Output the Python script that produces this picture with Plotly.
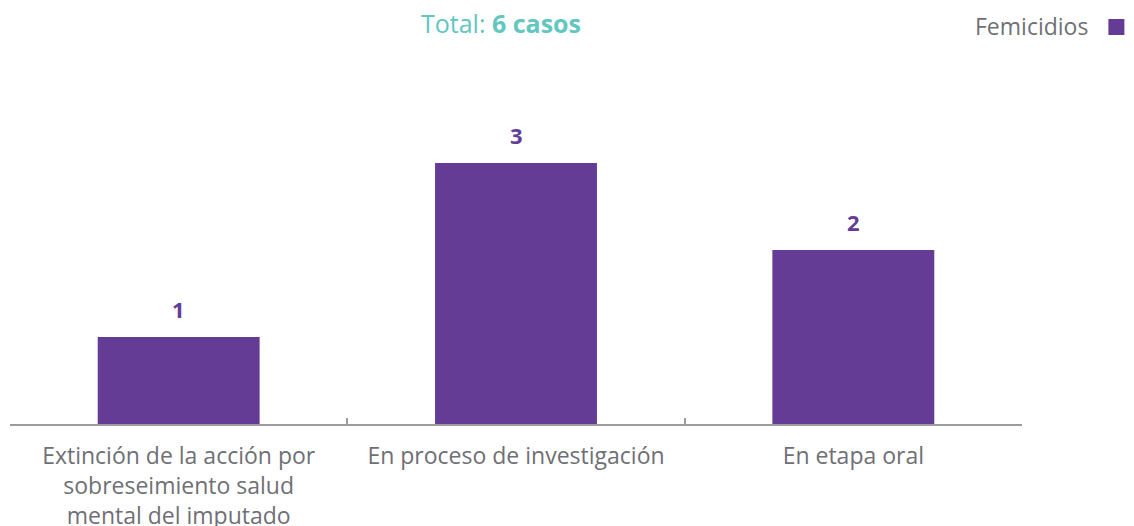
import plotly.graph_objects as go

categories = [
    "Extinción de la acción por<br>sobreseimiento salud<br>mental del imputado",
    "En proceso de investigación",
    "En etapa oral",
]
values = [1, 3, 2]
series_name = "Femicidios"
total_text = "Total: <b>6 casos</b>"

PURPLE = "#643c96"
GRAY = "#6f7075"
TEAL = "#62c6c1"
FONT = "Open Sans"

fig = go.Figure()
fig.add_trace(go.Bar(
    x=categories, y=values, name=series_name,
    marker=dict(color=PURPLE, line=dict(width=0)),
    width=0.48, showlegend=False,
    hoverinfo="skip",
))
# legend swatch for the series (legend entry only)
fig.add_trace(go.Scatter(
    x=[None], y=[None], mode="markers", name="",
    marker=dict(symbol="square", size=25, color=PURPLE),
    showlegend=True, hoverinfo="skip",
))

for c, v in zip(categories, values):
    fig.add_annotation(
        x=c, y=v, text=f"<b>{v}</b>", showarrow=False,
        yanchor="bottom", yshift=11,
        font=dict(family=FONT, size=22, color=PURPLE),
    )

fig.update_layout(
    width=1134, height=526,
    margin=dict(l=2, r=120, t=72, b=110, autoexpand=False),
    paper_bgcolor="white", plot_bgcolor="white",
    font=dict(family=FONT, color=GRAY),
    title=dict(
        text=total_text, x=493 / 1134, xanchor="center",
        y=1 - 16 / 526, yanchor="middle",
        font=dict(family=FONT, size=25, color=TEAL),
    ),
    showlegend=True,
    legend=dict(
        title=dict(text=series_name, side="left",
                   font=dict(family=FONT, size=23, color=GRAY)),
        xref="container", yref="container",
        x=1.02, xanchor="right", y=1 - 19 / 526, yanchor="middle",
        bgcolor="rgba(0,0,0,0)", font=dict(family=FONT, size=23, color=GRAY),
        itemwidth=30, itemsizing="trace",
    ),
    bargap=0.52,
)
fig.update_xaxes(
    showline=True, linecolor="#9b9ca0", linewidth=1.5,
    ticks="inside", tickson="boundaries", ticklen=6, tickcolor="#9b9ca0", tickwidth=1.5,
    tickfont=dict(family=FONT, size=23, color=GRAY),
    ticklabelstandoff=11,
    showgrid=False, zeroline=False,
)
fig.update_yaxes(
    range=[0, 344 / 87], visible=False, showgrid=False, zeroline=False,
)

fig.write_html("out.html")
